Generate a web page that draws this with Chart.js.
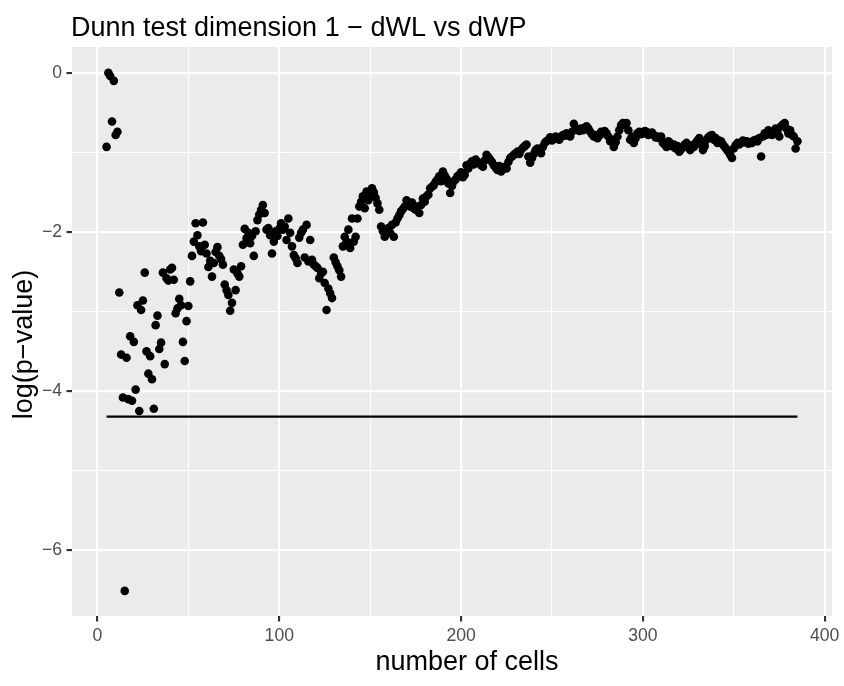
<!DOCTYPE html>
<html><head><meta charset="utf-8">
<script src="https://cdn.jsdelivr.net/npm/chart.js@4.4.1/dist/chart.umd.min.js"></script>
<style>html,body{margin:0;padding:0;background:#fff;}canvas{display:block;}</style>
</head><body>
<canvas id="c" width="844" height="686"></canvas>
<script>
const chartTitle = 'Dunn test dimension 1 \u2212 dWL vs dWP';
const xTitle = 'number of cells';
const yTitle = 'log(p\u2212value)';

// number of cells runs from firstCell upward, one point per cell count
const firstCell = 5;
const logP = [
  -0.93, 0.00, -0.04, -0.61, -0.10, -0.78, -0.74,
  -2.76, -3.54, -4.08, -6.51, -3.58, -4.10, -3.31, -4.12, -3.38, -3.98,
  -2.92, -4.25, -2.98, -2.86, -2.51, -3.50, -3.78, -3.56, -3.85, -4.22,
  -3.17, -3.05, -3.47, -3.39, -2.51, -3.66, -2.58, -2.61, -2.47, -2.45,
  -2.60, -3.02, -2.96, -2.84, -2.92, -3.38, -3.62, -3.12, -2.93, -2.62,
  -2.30, -2.12, -1.89, -2.04, -2.18, -2.24, -1.88, -2.16, -2.27, -2.44,
  -2.36, -2.56, -2.39, -2.25, -2.19, -2.30, -2.34, -2.41, -2.66, -2.73,
  -2.79, -2.99, -2.89, -2.47, -2.73, -2.52, -2.56, -2.43, -2.16, -1.96,
  -2.08, -2.01, -2.14, -2.05, -2.30, -1.99, -1.85, -1.78, -1.72, -1.66,
  -1.76, -1.97, -1.95, -2.04, -2.27, -2.12, -1.99, -2.05, -1.96, -1.89,
  -1.97, -1.93, -2.10, -1.83, -2.01, -2.18, -2.29, -2.33, -2.39, -2.07,
  -2.01, -1.97, -2.32, -1.91, -2.37, -2.10, -2.35, -2.41, -2.43, -2.45,
  -2.58, -2.52, -2.50, -2.64, -2.98, -2.71, -2.77, -2.83, -2.32, -2.38,
  -2.43, -2.48, -2.56, -2.18, -2.06, -2.12, -1.97, -2.20, -1.83, -2.12,
  -2.06, -1.83, -1.68, -1.62, -1.55, -1.70, -1.49, -1.60, -1.52, -1.45,
  -1.50, -1.57, -1.64, -1.72, -1.93, -1.99, -2.06, -1.97, -1.95, -2.01,
  -1.91, -2.06, -1.88, -1.83, -1.79, -1.74, -1.71, -1.68, -1.60, -1.65,
  -1.68, -1.63, -1.70, -1.72, -1.68, -1.76, -1.66, -1.58, -1.62, -1.55,
  -1.53, -1.45, -1.43, -1.41, -1.37, -1.34, -1.30, -1.36, -1.24, -1.29,
  -1.33, -1.39, -1.51, -1.42, -1.36, -1.34, -1.30, -1.28, -1.25, -1.31,
  -1.28, -1.16, -1.20, -1.14, -1.11, -1.15, -1.09, -1.12, -1.13, -1.16,
  -1.18, -1.10, -1.03, -1.06, -1.09, -1.12, -1.16, -1.19, -1.22, -1.17,
  -1.24, -1.21, -1.18, -1.20, -1.12, -1.07, -1.05, -1.03, -1.01, -0.99,
  -1.02, -0.97, -0.94, -0.92, -0.90, -1.05, -1.13, -1.07, -1.02, -0.97,
  -0.95, -0.98, -1.01, -0.93, -0.88, -0.86, -0.84, -0.81, -0.85, -0.83,
  -0.80, -0.82, -0.84, -0.80, -0.78, -0.79, -0.76, -0.78, -0.80, -0.74,
  -0.64, -0.69, -0.71, -0.73, -0.70, -0.72, -0.69, -0.67, -0.70, -0.74,
  -0.77, -0.80, -0.78, -0.82, -0.79, -0.74, -0.76, -0.73, -0.76, -0.80,
  -0.86, -0.84, -0.93, -0.87, -0.80, -0.72, -0.66, -0.63, -0.65, -0.63,
  -0.72, -0.84, -0.80, -0.88, -0.82, -0.76, -0.74, -0.77, -0.76, -0.73,
  -0.74, -0.78, -0.76, -0.75, -0.78, -0.81, -0.80, -0.82, -0.80, -0.88,
  -0.90, -0.93, -0.86, -0.88, -0.92, -0.90, -0.95, -0.92, -0.99, -0.96,
  -0.93, -0.90, -0.88, -0.94, -0.97, -0.91, -0.93, -0.88, -0.85, -0.82,
  -0.90, -0.97, -0.92, -0.84, -0.81, -0.79, -0.78, -0.84, -0.82, -0.88,
  -0.85, -0.86, -0.90, -0.93, -0.96, -0.99, -1.03, -1.07, -0.95, -0.91,
  -0.88, -0.90, -0.88, -0.85, -0.87, -0.86, -0.89, -0.87, -0.88, -0.85,
  -0.84, -0.86, -0.82, -1.05, -0.80, -0.76, -0.78, -0.72, -0.75, -0.78,
  -0.74, -0.70, -0.73, -0.80, -0.67, -0.65, -0.63, -0.70, -0.76, -0.72,
  -0.78, -0.80, -0.95, -0.86
];

// horizontal threshold segment
const lineCells = [5, 385];
const lineLogP = [-4.32, -4.32];

// axes
const xMajor = [0, 100, 200, 300, 400];
const xMinor = [50, 150, 250, 350];
const xTickLabels = ['0', '100', '200', '300', '400'];
const yMajor = [0, -2, -4, -6];
const yMinor = [-1, -3, -5];
const yTickLabels = ['0', '\u22122', '\u22124', '\u22126'];
const xLimits = [-14, 404];
const yLimits = [-6.8255, 0.3255];

const FONT = '"Liberation Sans", Arial, Helvetica, sans-serif';

const points = logP.map((v, i) => ({ x: firstCell + i, y: v }));
const segment = lineCells.map((c, i) => ({ x: c, y: lineLogP[i] }));

const ggPlugin = {
  id: 'gg',
  beforeDraw(chart) {
    const { ctx, chartArea: a } = chart;
    ctx.save();
    ctx.fillStyle = '#ffffff';
    ctx.fillRect(0, 0, chart.width, chart.height);
    ctx.fillStyle = '#EBEBEB';
    ctx.fillRect(a.left, a.top, a.right - a.left, a.bottom - a.top);
    ctx.restore();
  },
  afterDraw(chart) {
    const { ctx, chartArea: a } = chart;
    ctx.save();
    ctx.fillStyle = '#000000';
    ctx.textBaseline = 'alphabetic';
    ctx.textAlign = 'left';
    ctx.font = '27px ' + FONT;
    ctx.fillText(chartTitle, a.left - 1, 36);
    ctx.font = '27px ' + FONT;
    ctx.textAlign = 'center';
    ctx.fillText(xTitle, (a.left + a.right) / 2 + 15, 670);
    ctx.translate(32, (a.top + a.bottom) / 2 + 13);
    ctx.rotate(-Math.PI / 2);
    ctx.fillText(yTitle, 0, 0);
    ctx.restore();
  }
};

function tickSet(major, minor) {
  return [...major, ...minor].sort((p, q) => p - q).map(v => ({ value: v }));
}

new Chart(document.getElementById('c'), {
  type: 'scatter',
  data: {
    datasets: [
      {
        data: points,
        pointRadius: 4.3,
        pointHoverRadius: 4.3,
        pointBackgroundColor: '#000000',
        pointBorderWidth: 0,
        pointBorderColor: '#000000',
        showLine: false,
        order: 2
      },
      {
        type: 'line',
        data: segment,
        borderColor: '#000000',
        borderWidth: 2.1,
        pointRadius: 0,
        fill: false,
        order: 1
      }
    ]
  },
  options: {
    responsive: false,
    animation: false,
    devicePixelRatio: 1,
    layout: { padding: { top: 47, right: 12, left: 0, bottom: 0 } },
    plugins: { legend: { display: false }, tooltip: { enabled: false }, title: { display: false } },
    scales: {
      x: {
        type: 'linear',
        min: xLimits[0],
        max: xLimits[1],
        afterBuildTicks: s => { s.ticks = tickSet(xMajor, xMinor); },
        afterFit: s => { s.height = 70; },
        border: { display: false },
        grid: {
          color: '#ffffff',
          lineWidth: c => (xMajor.includes(c.tick && c.tick.value) ? 2.13 : 1.07),
          drawTicks: true,
          tickLength: 5.5,
          tickWidth: 2.13,
          tickColor: c => (xMajor.includes(c.tick && c.tick.value) ? '#333333' : 'rgba(0,0,0,0)')
        },
        ticks: {
          autoSkip: false,
          maxRotation: 0,
          minRotation: 0,
          padding: 4.4,
          color: '#4D4D4D',
          font: { family: FONT, size: 17.6 },
          callback: v => { const i = xMajor.indexOf(v); return i >= 0 ? xTickLabels[i] : ''; }
        }
      },
      y: {
        type: 'linear',
        min: yLimits[0],
        max: yLimits[1],
        afterBuildTicks: s => { s.ticks = tickSet(yMajor, yMinor); },
        afterFit: s => { s.width = 72; },
        border: { display: false },
        grid: {
          color: '#ffffff',
          lineWidth: c => (yMajor.includes(c.tick && c.tick.value) ? 2.13 : 1.07),
          drawTicks: true,
          tickLength: 5.5,
          tickWidth: 2.13,
          tickColor: c => (yMajor.includes(c.tick && c.tick.value) ? '#333333' : 'rgba(0,0,0,0)')
        },
        ticks: {
          autoSkip: false,
          padding: 4.4,
          color: '#4D4D4D',
          font: { family: FONT, size: 17.6 },
          callback: v => { const i = yMajor.indexOf(v); return i >= 0 ? yTickLabels[i] : ''; }
        }
      }
    }
  },
  plugins: [ggPlugin]
});
</script>
</body></html>
